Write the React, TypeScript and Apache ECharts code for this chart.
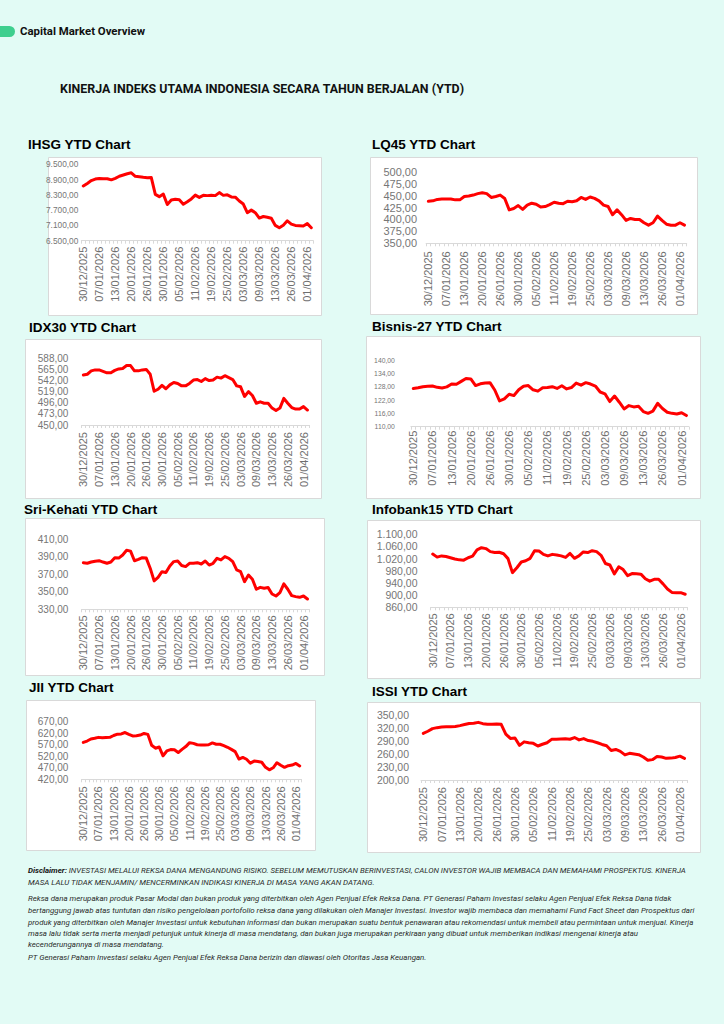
import React, { useEffect, useRef } from "react";
import * as echarts from "echarts";

const dates = [
  "30/12/2025", "02/01/2026", "05/01/2026", "06/01/2026", "07/01/2026", "08/01/2026", "09/01/2026", "12/01/2026",
  "13/01/2026", "14/01/2026", "15/01/2026", "19/01/2026", "20/01/2026", "21/01/2026", "22/01/2026", "23/01/2026",
  "26/01/2026", "27/01/2026", "28/01/2026", "29/01/2026", "30/01/2026", "02/02/2026", "03/02/2026", "04/02/2026",
  "05/02/2026", "06/02/2026", "09/02/2026", "10/02/2026", "11/02/2026", "12/02/2026", "13/02/2026", "18/02/2026",
  "19/02/2026", "20/02/2026", "23/02/2026", "24/02/2026", "25/02/2026", "26/02/2026", "27/02/2026", "02/03/2026",
  "03/03/2026", "04/03/2026", "05/03/2026", "06/03/2026", "09/03/2026", "10/03/2026", "11/03/2026", "12/03/2026",
  "13/03/2026", "16/03/2026", "17/03/2026", "25/03/2026", "26/03/2026", "27/03/2026", "30/03/2026", "31/03/2026",
  "01/04/2026", "02/04/2026",
];

const ihsg = [8647, 8750, 8860, 8920, 8945, 8930, 8935, 8890, 8950, 9030, 9080, 9130, 9165, 9030, 9010, 8990, 8975, 8980, 8320, 8230, 8330, 7920, 8100, 8130, 8110, 7930, 8030, 8140, 8290, 8200, 8280, 8270, 8280, 8270, 8390, 8280, 8300, 8220, 8210, 8060, 7940, 7600, 7700, 7600, 7390, 7450, 7420, 7380, 7100, 7010, 7110, 7280, 7150, 7100, 7090, 7080, 7170, 7010];
const lq45 = [438, 439, 442, 443, 443, 443, 441, 441, 448, 449, 451, 454, 456, 454, 446, 448, 451, 444, 420, 423, 429, 421, 430, 434, 432, 426, 427, 431, 436, 434, 433, 438, 437, 439, 446, 442, 447, 444, 439, 430, 427, 410, 420, 410, 398, 402, 400, 400, 393, 388, 393, 407, 398, 390, 388, 388, 393, 388];
const idx30 = [553.5, 555, 562, 564, 564, 561, 558, 558, 563, 566, 567, 573, 573, 562, 562, 564, 565, 555, 520, 524, 532, 525, 533, 538, 536, 531, 531, 536, 543, 544, 540, 546, 542, 543, 549, 547, 552, 548, 544, 531, 529, 509, 519, 511, 495, 498, 495, 495, 485, 480, 485, 505, 495, 486, 483, 483, 488, 481];
const bisnis27 = [127.2, 127.5, 128.0, 128.2, 128.3, 127.7, 127.4, 127.9, 129.2, 129.1, 130.4, 131.7, 131.5, 128.5, 129.3, 129.7, 129.8, 126.5, 121.6, 122.5, 124.6, 124.0, 126.6, 128.2, 128.5, 126.6, 126.0, 127.5, 127.6, 128.0, 127.2, 128.4, 127.0, 127.6, 129.6, 128.7, 129.8, 129.2, 128.3, 125.6, 124.8, 121.3, 123.8, 121.0, 118.0, 119.5, 118.9, 119.2, 116.8, 116.0, 117.0, 120.5, 118.2, 116.5, 116.0, 115.7, 116.3, 115.0];
const sriKehati = [383.3, 382.6, 384, 385, 385.6, 384, 382.6, 384, 389, 388.5, 392, 397.5, 396.5, 385.5, 387, 389, 388.5, 377, 362.5, 366.5, 373, 372, 379.5, 384.5, 385.2, 380, 378.8, 382.6, 382.6, 383.3, 381.8, 385.2, 380.6, 382.6, 388.3, 386.4, 390.2, 388.3, 384.5, 375, 373, 361.6, 369.2, 364.3, 352.9, 355.1, 354, 354.8, 347.5, 345.2, 349, 359, 352.9, 345.6, 344.5, 343.7, 345.2, 341.8];
const infobank15 = [1035, 1025, 1029, 1027, 1023, 1019, 1016, 1015, 1023, 1028, 1049, 1056, 1053, 1043, 1040, 1041, 1036, 1020, 974, 990, 1009, 1013, 1021, 1046, 1045, 1034, 1029, 1034, 1032, 1029, 1024, 1037, 1021, 1029, 1042, 1040, 1046, 1043, 1031, 1004, 999, 970, 993, 984, 964, 971, 970, 969, 954, 946, 952, 952, 937, 920, 909, 908, 908, 903];
const jii = [580, 586, 595, 598, 602, 600, 601, 602, 610, 616, 617, 623, 615, 608, 609, 612, 619, 615, 568, 555, 560, 522, 543, 549, 548, 536, 550, 562, 579, 576, 570, 569, 569, 570, 578, 572, 572, 566, 559, 550, 540, 508, 515, 507, 490, 499, 497, 494, 472, 461, 470, 492, 481, 472, 479, 482, 489, 478];
const issi = [307.7, 312.5, 318.5, 320.8, 322.3, 322.8, 323, 323.5, 325.5, 328, 330.5, 331, 333, 330, 328.5, 328.5, 329.5, 328.5, 306, 296, 297, 280, 288, 286, 284.6, 278.5, 282.5, 286, 293.8, 293.8, 294.6, 295.2, 294, 298, 292.5, 295.5, 291, 289.2, 286, 282, 279, 268, 270.5, 266, 258, 261.5, 260, 258.5, 253, 245.5, 247, 254, 253, 250, 250.5, 252, 255, 250];

const ihsgTicks = [6500, 7100, 7700, 8300, 8900, 9500];
const lq45Ticks = [350, 375, 400, 425, 450, 475, 500];
const idx30Ticks = [450, 473, 496, 519, 542, 565, 588];
const bisnisTicks = [110, 116, 122, 128, 134, 140];
const sriTicks = [330, 350, 370, 390, 410];
const infobankTicks = [860, 900, 940, 980, 1020, 1060, 1100];
const jiiTicks = [420, 470, 520, 570, 620, 670];
const issiTicks = [200, 230, 260, 290, 320, 350];

const panelTitles = [
  "IHSG YTD Chart", "LQ45 YTD Chart", "IDX30 YTD Chart", "Bisnis-27 YTD Chart",
  "Sri-Kehati YTD Chart", "Infobank15 YTD Chart", "JII YTD Chart", "ISSI YTD Chart",
];
const panelData = [ihsg, lq45, idx30, bisnis27, sriKehati, infobank15, jii, issi];
const panelTicks = [ihsgTicks, lq45Ticks, idx30Ticks, bisnisTicks, sriTicks, infobankTicks, jiiTicks, issiTicks];

const footerLines = [
  "{b|Disclaimer:} INVESTASI MELALUI REKSA DANA MENGANDUNG RISIKO. SEBELUM MEMUTUSKAN BERINVESTASI, CALON INVESTOR WAJIB MEMBACA DAN MEMAHAMI PROSPEKTUS. KINERJA",
  "MASA LALU TIDAK MENJAMIN/ MENCERMINKAN INDIKASI KINERJA DI MASA YANG AKAN DATANG.",
  "Reksa dana merupakan produk Pasar Modal dan bukan produk yang diterbitkan oleh Agen Penjual Efek Reksa Dana. PT Generasi Paham Investasi selaku Agen Penjual Efek Reksa Dana tidak",
  "bertanggung jawab atas tuntutan dan risiko pengelolaan portofolio reksa dana yang dilakukan oleh Manajer Investasi. Investor wajib membaca dan memahami Fund Fact Sheet dan Prospektus dari",
  "produk yang diterbitkan oleh Manajer Investasi untuk kebutuhan informasi dan bukan merupakan suatu bentuk penawaran atau rekomendasi untuk membeli atau permintaan untuk menjual. Kinerja",
  "masa lalu tidak serta merta menjadi petunjuk untuk kinerja di masa mendatang, dan bukan juga merupakan perkiraan yang dibuat untuk memberikan indikasi mengenai kinerja atau",
  "kecenderungannya di masa mendatang.",
  "PT Generasi Paham Investasi selaku Agen Penjual Efek Reksa Dana berizin dan diawasi oleh Otoritas Jasa Keuangan.",
];

// layout: grid [left, top, width, height], box [x, y, w, h], title [x, y]
const layout = [
  { grid: [81.3, 164.3, 232, 76.4], box: [48, 157, 273, 158], title: [28, 144], yFont: 8.3, yMargin: 3, xMargin: 6 },
  { grid: [426.1, 171.7, 260.6, 71.6], box: [370, 157, 327, 157], title: [372, 144], yFont: 11, yMargin: 9, xMargin: 8 },
  { grid: [81.4, 358.3, 228, 66.7], box: [25, 339, 296, 159], title: [29, 327], yFont: 10, yMargin: 13, xMargin: 7 },
  { grid: [410.9, 360, 277.9, 66.7], box: [366, 336, 334, 162], title: [372, 326], yFont: 6.8, yMargin: 16, xMargin: 4 },
  { grid: [81.4, 539.3, 228, 70], box: [25, 518, 299, 157], title: [24, 509], yFont: 10, yMargin: 13, xMargin: 6 },
  { grid: [430.5, 534.3, 256.9, 73], box: [367, 520, 333, 158], title: [372, 509], yFont: 10.5, yMargin: 13, xMargin: 6 },
  { grid: [81.4, 721.7, 220.2, 57.6], box: [26, 700, 289, 150], title: [29, 687], yFont: 10, yMargin: 13, xMargin: 7 },
  { grid: [421, 715, 265.8, 65], box: [367, 702, 333, 150], title: [372, 691], yFont: 10.5, yMargin: 12, xMargin: 7 },
];

const footerY = [870, 882, 898, 910, 922, 933, 944, 957];

const fmtId = (v: number) => {
  const parts = Number(v).toFixed(2).split(".");
  return parts[0].replace(/\B(?=(\d{3})+(?!\d))/g, ".") + "," + parts[1];
};

export default function App() {
  const ref = useRef<HTMLDivElement>(null);
  useEffect(() => {
    if (!ref.current) return;
    const chart = echarts.init(ref.current, null, { renderer: "svg" });
    const graphic: any[] = [
      { type: "rect", shape: { x: -6, y: 26, width: 21, height: 11, r: 5.5 }, style: { fill: "#3ecf8e" } },
      {
        type: "text", x: 20, y: 31,
        style: { text: "Capital Market Overview", fill: "#111", fontFamily: "Roboto", fontWeight: "bold", fontSize: 11.4, textVerticalAlign: "middle" },
      },
      {
        type: "text", x: 262, y: 88,
        style: { text: "KINERJA INDEKS UTAMA INDONESIA SECARA TAHUN BERJALAN (YTD)", fill: "#111", fontFamily: "Roboto", fontWeight: "bold", fontSize: 12.4, textAlign: "center", textVerticalAlign: "middle" },
      },
    ];
    layout.forEach((l, i) => {
      graphic.push({
        type: "rect", z: -1,
        shape: { x: l.box[0] + 0.5, y: l.box[1] + 0.5, width: l.box[2], height: l.box[3] },
        style: { fill: "#ffffff", stroke: "#d9d9d9", lineWidth: 1 },
      });
      graphic.push({
        type: "text", x: l.title[0], y: l.title[1],
        style: { text: panelTitles[i], fill: "#000", fontFamily: "Liberation Sans", fontWeight: "bold", fontSize: 13.5, textVerticalAlign: "middle" },
      });
    });
    footerLines.forEach((t, i) => {
      graphic.push({
        type: "text", x: 28, y: footerY[i],
        style: {
          text: t, fill: "#2b2b2b", fontFamily: "Roboto", fontStyle: "italic", fontSize: 7.9, textVerticalAlign: "middle",
          rich: { b: { fontWeight: "bold", fontStyle: "italic", fill: "#111", fontFamily: "Roboto", fontSize: 7.9 } },
        },
      });
    });

    const option: any = {
      animation: false,
      backgroundColor: "#e2fbf5",
      graphic,
      grid: layout.map((l) => ({
        left: l.grid[0], top: l.grid[1], width: l.grid[2], height: l.grid[3],
        containLabel: false, outerBoundsMode: "none",
      })),
      xAxis: layout.map((l, i) => ({
        type: "category", gridIndex: i, data: dates, boundaryGap: true,
        axisLine: { show: true, lineStyle: { color: "#d9d9d9", width: 1 } },
        axisTick: { show: true, interval: 0, length: 3, lineStyle: { color: "#d9d9d9" } },
        axisLabel: { interval: 3, rotate: 90, fontSize: 11, fontFamily: "Liberation Sans", color: "#6f6f6f", margin: l.xMargin },
        splitLine: { show: false },
      })),
      yAxis: layout.map((l, i) => {
        const ticks = panelTicks[i];
        return {
          type: "value", gridIndex: i, min: ticks[0], max: ticks[ticks.length - 1],
          axisLine: { show: false }, axisTick: { show: false }, splitLine: { show: false },
          axisLabel: {
            customValues: ticks, formatter: (v: number) => fmtId(v),
            fontSize: l.yFont, fontFamily: "Liberation Sans", color: "#767676", margin: l.yMargin,
          },
        };
      }),
      series: panelData.map((d, i) => ({
        type: "line", name: panelTitles[i], xAxisIndex: i, yAxisIndex: i, data: d,
        showSymbol: false, symbol: "none", smooth: false,
        lineStyle: { color: "#ff0000", width: 3, cap: "round", join: "round" },
        itemStyle: { color: "#ff0000" },
      })),
    };
    chart.setOption(option);
    return () => chart.dispose();
  }, []);
  return <div ref={ref} style={{ position: "absolute", left: 0, top: 0, width: 724, height: 1024 }} />;
}
